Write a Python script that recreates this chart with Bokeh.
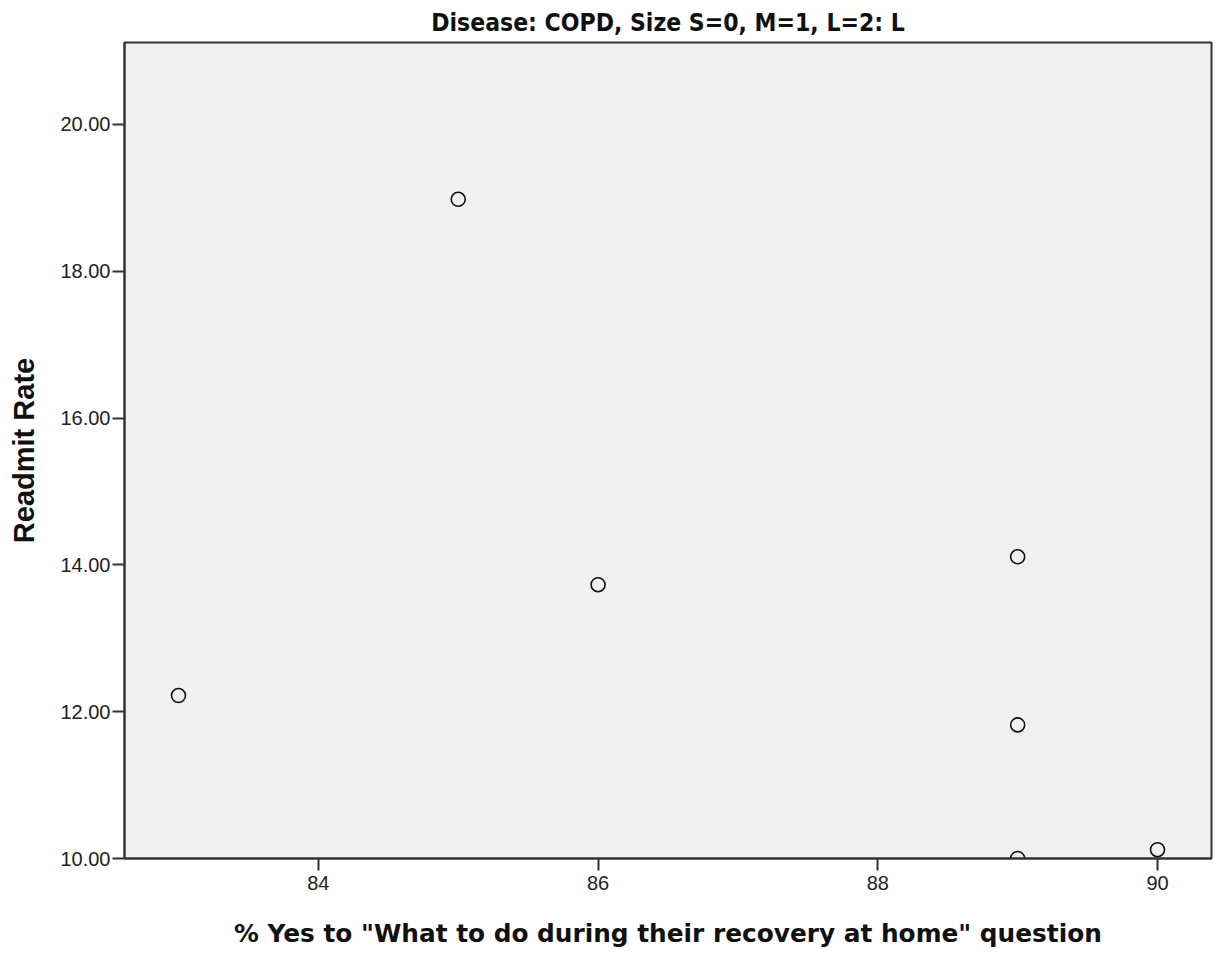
from bokeh.plotting import figure
from bokeh.models import FixedTicker, NumeralTickFormatter
from bokeh.embed import file_html
from bokeh.resources import INLINE

# Data
x_vals = [83, 85, 86, 89, 89, 89, 90]
y_vals = [12.22, 18.98, 13.73, 14.11, 11.82, 10.00, 10.12]
x_ticks = [84, 86, 88, 90]
y_ticks = [10, 12, 14, 16, 18, 20]

title_text = "Disease: COPD, Size S=0, M=1, L=2: L"
x_label = '% Yes to "What to do during their recovery at home" question'
y_label = "Readmit Rate"

p = figure(width=1216, height=950, x_range=(82.614, 90.386), y_range=(10, 21.116),
           output_backend="svg", toolbar_location=None,
           min_border_left=124, min_border_right=5, min_border_top=42, min_border_bottom=91)

p.title.text = title_text
p.title.align = "center"
p.title.text_font = "DejaVu Sans Condensed"
p.title.text_font_style = "bold"
p.title.text_font_size = "24.5px"
p.title.text_color = "#111111"
p.title.standoff = 11

p.background_fill_color = "#f0f0f0"
p.border_fill_color = "white"
p.outline_line_color = "#333333"
p.outline_line_width = 2
p.xgrid.visible = False
p.ygrid.visible = False

p.scatter(x_vals, y_vals, marker="circle", size=14, fill_color=None,
          line_color="#111111", line_width=1.6)

for ax in (p.xaxis[0], p.yaxis[0]):
    ax.axis_line_color = "#333333"
    ax.axis_line_width = 2
    ax.major_tick_line_color = "#333333"
    ax.major_tick_line_width = 2
    ax.major_tick_out = 12
    ax.major_tick_in = 0
    ax.minor_tick_line_color = None
    ax.major_label_text_font = "Liberation Sans"
    ax.major_label_text_font_size = "20px"
    ax.major_label_text_color = "#222222"
    ax.axis_label_text_font_style = "bold"
    ax.axis_label_text_color = "#111111"

p.xaxis[0].ticker = FixedTicker(ticks=x_ticks)
p.yaxis[0].ticker = FixedTicker(ticks=y_ticks)
p.yaxis[0].formatter = NumeralTickFormatter(format="0.00")
p.xaxis[0].axis_label = x_label
p.xaxis[0].axis_label_text_font = "DejaVu Sans"
p.xaxis[0].axis_label_text_font_size = "24.8px"
p.xaxis[0].axis_label_standoff = 26
p.yaxis[0].axis_label = y_label
p.yaxis[0].axis_label_text_font = "Liberation Sans"
p.yaxis[0].axis_label_text_font_size = "29px"
p.yaxis[0].axis_label_standoff = 17
p.yaxis[0].major_label_standoff = 2
p.xaxis[0].major_label_standoff = 5

open("out.html", "w").write(file_html(p, INLINE))
